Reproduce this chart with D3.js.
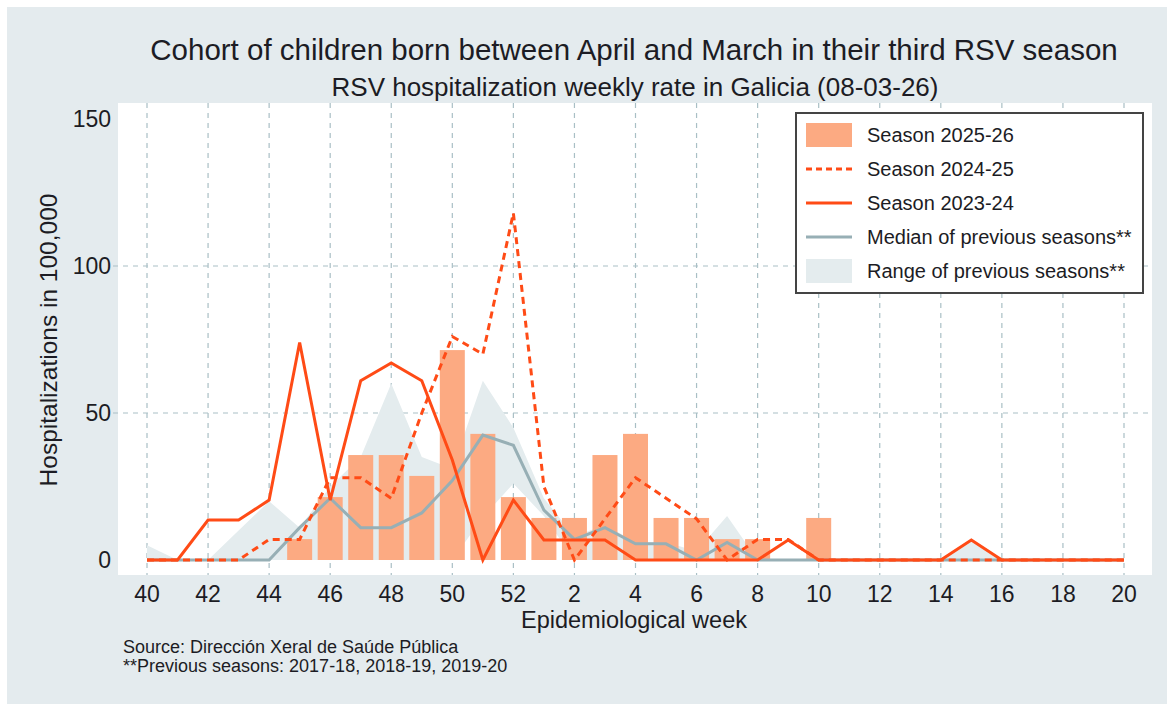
<!DOCTYPE html>
<html>
<head>
<meta charset="utf-8">
<script src="https://cdn.jsdelivr.net/npm/d3@7"></script>
<style>
  body { margin: 0; background: #fff; }
  svg text { font-family: "Liberation Sans", Arial, sans-serif; fill: #1c1c24; }
</style>
</head>
<body>
<div id="chart"></div>
<script>
// epidemiological weeks, season runs from week 40 to week 20
const weeks = [40, 41, 42, 43, 44, 45, 46, 47, 48, 49, 50, 51, 52,
  1, 2, 3, 4, 5, 6, 7, 8, 9, 10, 11, 12, 13, 14, 15, 16, 17, 18, 19, 20];
const tickWeeks = [40, 42, 44, 46, 48, 50, 52, 2, 4, 6, 8, 10, 12, 14, 16, 18, 20];
const yTicks = [0, 50, 100, 150];

// rates per 100,000
const season2526 = [0, 0, 0, 0, 0, 7.1, 21.4, 35.7, 35.7, 28.6, 71.4, 42.9, 21.4,
  14.3, 14.3, 35.7, 42.9, 14.3, 14.3, 7.1, 7.1, 0, 14.3, null, null, null, null, null, null, null, null, null, null];
const season2425 = [0, 0, 0, 0, 7, 7, 28, 28, 21, 50, 76, 70, 118,
  25, 0, 14, 28, 21, 14, 0, 7, 7, 0, 0, 0, 0, 0, 0, 0, 0, 0, 0, 0];
const season2324 = [0, 0, 13.6, 13.6, 20.4, 74, 20.4, 61, 67, 61, 34, 0, 20.4,
  6.8, 6.8, 6.8, 0, 0, 0, 0, 0, 6.8, 0, 0, 0, 0, 0, 6.8, 0, 0, 0, 0, 0];
const medianPrev = [0, 0, 0, 0, 0, 11, 21, 11, 11, 16, 27, 42.5, 39,
  17, 7, 11, 5.5, 5.5, 0, 6, 0, 0, 0, 0, 0, 0, 0, 0, 0, 0, 0, 0, 0];
const rangeHigh = [5, 0, 0, 10, 20, 11, 25, 35, 60, 35, 31, 61, 45,
  21, 8, 12, 6, 6, 3, 15, 0, 0, 0, 0, 0, 0, 0, 6.5, 0, 0, 0, 0, 0];
const rangeLow = [0, 0, 0, 0, 0, 0, 0, 0, 0, 0, 0, 14.5, 26,
  15, 0, 0, 0, 0, 0, 0, 0, 0, 0, 0, 0, 0, 0, 0, 0, 0, 0, 0, 0];

const legendLabels = ["Season 2025-26", "Season 2024-25", "Season 2023-24",
  "Median of previous seasons**", "Range of previous seasons**"];

const width = 1169, height = 706;
const plot = {left: 118, right: 1152, top: 103, bottom: 575};
const red = "#ff4b16", barColor = "#fcaa82", medColor = "#97afb5", rangeColor = "#e4ecee", gridColor = "#a9bfc5";

let svg = d3.select("#chart")
  .append("svg")
  .attr("width", width)
  .attr("height", height);

// grey page background
svg.append("rect")
  .attr("x", 7).attr("y", 7)
  .attr("width", width - 9).attr("height", height - 9)
  .attr("fill", "#e4ebee");

svg.append("rect")
  .attr("x", plot.left).attr("y", plot.top)
  .attr("width", plot.right - plot.left).attr("height", plot.bottom - plot.top)
  .attr("fill", "#fff");

let x = d3.scalePoint()
  .domain(weeks)
  .range([147, 1124]);

let y = d3.scaleLinear()
  .domain([0, 150])
  .range([560, 119]);

// grid
let grid = svg.append("g")
  .attr("stroke", gridColor)
  .attr("stroke-width", 1.2)
  .attr("stroke-dasharray", "5,5");

grid.selectAll(".vgrid")
  .data(tickWeeks)
  .enter()
  .append("line")
  .attr("x1", d => x(d)).attr("x2", d => x(d))
  .attr("y1", plot.top).attr("y2", plot.bottom);

grid.selectAll(".hgrid")
  .data([50, 100])
  .enter()
  .append("line")
  .attr("x1", plot.left - 5).attr("x2", plot.right)
  .attr("y1", d => y(d)).attr("y2", d => y(d));

// range of previous seasons
let rangeArea = d3.area()
  .x((d, i) => x(weeks[i]))
  .y0((d, i) => y(rangeLow[i]))
  .y1(d => y(d));

svg.append("path")
  .datum(rangeHigh)
  .attr("d", rangeArea)
  .attr("fill", rangeColor);

// current season bars
let barW = 25;
svg.append("g")
  .selectAll("rect")
  .data(weeks.map((w, i) => ({week: w, value: season2526[i]})).filter(d => d.value))
  .enter()
  .append("rect")
  .attr("x", d => x(d.week) - barW / 2)
  .attr("y", d => y(d.value))
  .attr("width", barW)
  .attr("height", d => y(0) - y(d.value))
  .attr("fill", barColor);

let line = d3.line()
  .x((d, i) => x(weeks[i]))
  .y(d => y(d));

svg.append("path")
  .datum(medianPrev)
  .attr("d", line)
  .attr("fill", "none")
  .attr("stroke", medColor)
  .attr("stroke-width", 3);

svg.append("path")
  .datum(season2425)
  .attr("d", line)
  .attr("fill", "none")
  .attr("stroke", red)
  .attr("stroke-width", 3)
  .attr("stroke-dasharray", "7,5");

svg.append("path")
  .datum(season2324)
  .attr("d", line)
  .attr("fill", "none")
  .attr("stroke", red)
  .attr("stroke-width", 3)
  .attr("stroke-linejoin", "miter");

// axis labels
svg.append("g")
  .selectAll("text")
  .data(tickWeeks)
  .enter()
  .append("text")
  .attr("x", d => x(d))
  .attr("y", 602)
  .attr("text-anchor", "middle")
  .style("font-size", "23px")
  .text(d => d);

svg.append("g")
  .selectAll("text")
  .data(yTicks)
  .enter()
  .append("text")
  .attr("x", 111)
  .attr("y", d => y(d) + 8)
  .attr("text-anchor", "end")
  .style("font-size", "23px")
  .text(d => d);

svg.append("text")
  .attr("x", 634).attr("y", 628)
  .attr("text-anchor", "middle")
  .style("font-size", "23.5px")
  .text("Epidemiological week");

svg.append("text")
  .attr("transform", "translate(57, 340) rotate(-90)")
  .attr("text-anchor", "middle")
  .style("font-size", "24.5px")
  .text("Hospitalizations in 100,000");

// titles
svg.append("text")
  .attr("x", 634).attr("y", 60)
  .attr("text-anchor", "middle")
  .style("font-size", "29.5px")
  .text("Cohort of children born between April and March in their third RSV season");

svg.append("text")
  .attr("x", 635).attr("y", 96)
  .attr("text-anchor", "middle")
  .style("font-size", "26px")
  .text("RSV hospitalization weekly rate in Galicia (08-03-26)");

// notes
svg.append("text")
  .attr("x", 123).attr("y", 653)
  .style("font-size", "18px")
  .text("Source: Dirección Xeral de Saúde Pública");

svg.append("text")
  .attr("x", 123).attr("y", 672)
  .style("font-size", "18px")
  .text("**Previous seasons: 2017-18, 2018-19, 2019-20");

// legend
let legend = svg.append("g");
legend.append("rect")
  .attr("x", 796).attr("y", 113)
  .attr("width", 347).attr("height", 180)
  .attr("fill", "#fff")
  .attr("stroke", "#444")
  .attr("stroke-width", 2);

let rowY = d3.scalePoint().domain(legendLabels).range([135, 271]);

legend.append("rect")
  .attr("x", 806).attr("y", rowY(legendLabels[0]) - 12)
  .attr("width", 46).attr("height", 24)
  .attr("fill", barColor);

legend.append("line")
  .attr("x1", 806).attr("x2", 852)
  .attr("y1", rowY(legendLabels[1])).attr("y2", rowY(legendLabels[1]))
  .attr("stroke", red).attr("stroke-width", 3)
  .attr("stroke-dasharray", "6,4");

legend.append("line")
  .attr("x1", 806).attr("x2", 852)
  .attr("y1", rowY(legendLabels[2])).attr("y2", rowY(legendLabels[2]))
  .attr("stroke", red).attr("stroke-width", 3);

legend.append("line")
  .attr("x1", 806).attr("x2", 852)
  .attr("y1", rowY(legendLabels[3])).attr("y2", rowY(legendLabels[3]))
  .attr("stroke", medColor).attr("stroke-width", 3);

legend.append("rect")
  .attr("x", 806).attr("y", rowY(legendLabels[4]) - 12)
  .attr("width", 46).attr("height", 24)
  .attr("fill", rangeColor);

legend.selectAll(".lab")
  .data(legendLabels)
  .enter()
  .append("text")
  .attr("x", 867)
  .attr("y", d => rowY(d) + 7)
  .style("font-size", "20px")
  .text(d => d);
</script>
</body>
</html>
